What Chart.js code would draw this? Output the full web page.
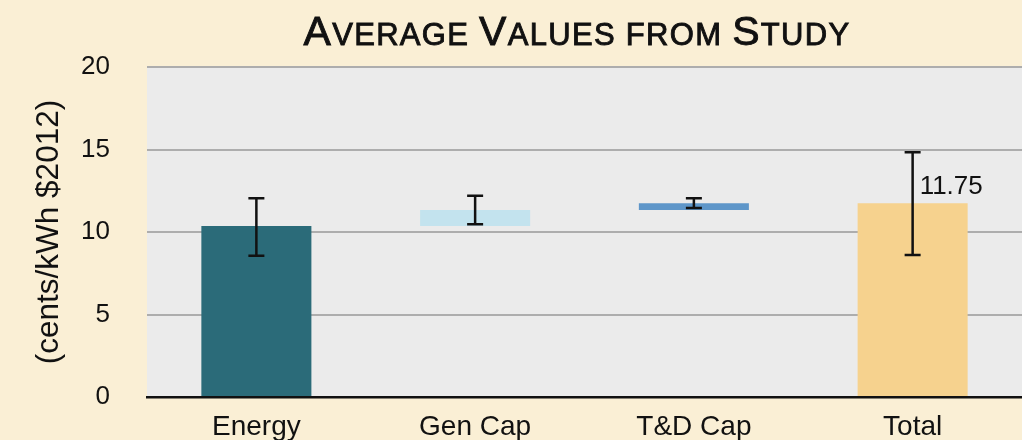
<!DOCTYPE html>
<html>
<head>
<meta charset="utf-8">
<script src="https://cdn.jsdelivr.net/npm/chart.js@4"></script>
<style>
body{margin:0;background:#faefd5;}
#wrap{position:relative;width:1022px;height:440px;}
</style>
</head>
<body>
<div id="wrap"><canvas id="grafico" width="1022" height="440"></canvas></div>
<script>
let categorias = ["Energy","Gen Cap","T&D Cap","Total"]
let incrementos = [10.36, 0.97, 0.42]   // Energy, Gen Cap, T&D Cap
let total = 11.75
let erroMin = [8.56, 10.47, 11.45, 8.6]
let erroMax = [12.04, 12.2, 12.05, 14.83]
let cores = ["#2b6b79","#c3e3ee","#5e96c9","#f6d28e"]

// barras flutuantes (cascata) + total a partir do zero
let barras = []
let acum = 0
incrementos.forEach(v => { barras.push([acum, acum + v]); acum += v })
barras.push([0, total])

let fonte = '"Liberation Sans", Arial, Helvetica, sans-serif'

const fundo = {
id:"fundo",
beforeDraw(chart){
let {ctx, chartArea:a} = chart
ctx.save()
ctx.fillStyle = "#ebebeb"
ctx.fillRect(a.left, a.top, a.right - a.left, a.bottom - a.top)
ctx.restore()
}
}

const erros = {
id:"erros",
afterDatasetsDraw(chart){
let ctx = chart.ctx
let y = chart.scales.y
ctx.save()
ctx.strokeStyle = "#111"
ctx.lineWidth = 2.5
chart.getDatasetMeta(0).data.forEach((bar, i) => {
let y1 = y.getPixelForValue(erroMax[i])
let y2 = y.getPixelForValue(erroMin[i])
ctx.beginPath()
ctx.moveTo(bar.x, y1); ctx.lineTo(bar.x, y2)
ctx.moveTo(bar.x - 8, y1); ctx.lineTo(bar.x + 8, y1)
ctx.moveTo(bar.x - 8, y2); ctx.lineTo(bar.x + 8, y2)
ctx.stroke()
})
// valor do total
let ult = chart.getDatasetMeta(0).data[3]
ctx.fillStyle = "#111"
ctx.font = "26px " + fonte
ctx.textBaseline = "alphabetic"
ctx.fillText(total.toFixed(2), ult.x + 7, y.getPixelForValue(total) - 9.5)
ctx.restore()
}
}

const titulo = {
id:"titulo",
afterDraw(chart){
let ctx = chart.ctx
let partes = [["A",1],["VERAGE ",0],["V",1],["ALUES FROM ",0],["S",1],["TUDY",0]]
let f = g => (g ? "41px " : "31px ") + fonte
ctx.save()
ctx.fillStyle = "#111"
ctx.strokeStyle = "#111"
ctx.lineWidth = 0.9
ctx.textBaseline = "alphabetic"
ctx.letterSpacing = "1.3px"
let largura = 0
partes.forEach(p => { ctx.font = f(p[1]); largura += ctx.measureText(p[0]).width })
let x = 577 - largura / 2
partes.forEach(p => {
ctx.font = f(p[1])
ctx.fillText(p[0], x, 45)
ctx.strokeText(p[0], x, 45)
x += ctx.measureText(p[0]).width
})
ctx.restore()
}
}

new Chart(document.getElementById("grafico"),{
type:"bar",
data:{
labels:categorias,
datasets:[{
data:barras,
backgroundColor:cores,
barPercentage:0.503,
categoryPercentage:1,
borderSkipped:false
}]
},
options:{
responsive:false,
animation:false,
devicePixelRatio:1,
layout:{padding:{top:67,right:0,left:0,bottom:0}},
plugins:{legend:{display:false},tooltip:{enabled:false}},
scales:{
x:{
grid:{display:false,drawTicks:false},
border:{color:"#111",width:2.5},
ticks:{color:"#111",font:{size:28,family:fonte},padding:13},
afterFit:s => { s.height = 43 }
},
y:{
min:0,max:20,
ticks:{stepSize:5,color:"#111",font:{size:26,family:fonte},padding:6},
grid:{color:c => c.tick.value === 0 ? "#111" : "#adadad",lineWidth:2,drawTicks:true,tickLength:31,tickColor:"rgba(0,0,0,0)"},
border:{display:false},
title:{display:true,text:"(cents/kWh $2012)",color:"#111",font:{size:31.5,family:fonte},padding:{top:30,bottom:0}},
afterFit:s => { s.width = 147 }
}
}
},
plugins:[fundo,erros,titulo]
})
</script>
</body>
</html>
